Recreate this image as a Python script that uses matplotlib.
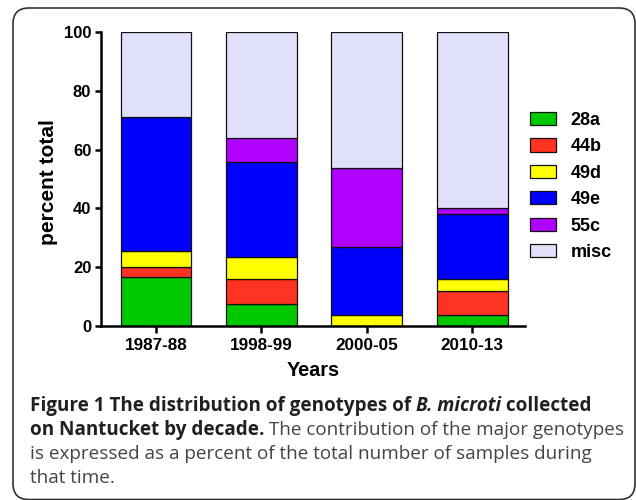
import matplotlib
matplotlib.use("Agg")
import matplotlib.pyplot as plt
import numpy as np
from matplotlib.patches import FancyBboxPatch

periods = ["1987-88", "1998-99", "2000-05", "2010-13"]
genotypes = ["28a", "44b", "49d", "49e", "55c", "misc"]
pct_28a = [16.6, 7.6, 0.0, 3.6]
pct_44b = [3.4, 8.3, 0.0, 8.3]
pct_49d = [5.6, 7.6, 3.6, 4.1]
pct_49e = [45.4, 32.2, 23.3, 22.0]
pct_55c = [0.0, 8.3, 26.8, 2.0]
pct_misc = [29.0, 36.0, 46.3, 60.0]
yticks = [0, 20, 40, 60, 80, 100]

colors = ["#00c800", "#ff3322", "#ffff00", "#0000ff", "#b000ff", "#e0e0fb"]

W, H = 636, 500
fig = plt.figure(figsize=(W / 100, H / 100), dpi=100)
plt.rcParams["font.family"] = ["Liberation Sans", "DejaVu Sans"]

# rounded frame around chart + caption
frame = FancyBboxPatch((13 / W, 0.5 / H), (635 - 13) / W, (492 - 0.5) / H,
                       boxstyle="round,pad=0,rounding_size=0.025",
                       transform=fig.transFigure, fill=False,
                       edgecolor="#333333", linewidth=1.2, mutation_aspect=W / H)
fig.patches.append(frame)

ax = fig.add_axes([101 / W, 1 - 326 / H, 424 / W, 294 / H])
x = np.arange(len(periods))
bottom = np.zeros(len(periods))
for name, vals, col in zip(genotypes,
                           [pct_28a, pct_44b, pct_49d, pct_49e, pct_55c, pct_misc],
                           colors):
    ax.bar(x, vals, width=0.67, bottom=bottom, color=col, edgecolor="#111111",
           linewidth=0.9, label=name)
    bottom += np.array(vals)

ax.set_xlim(-0.52, 3.5)
ax.set_ylim(0, 100)
ax.set_xticks(x)
ax.set_xticklabels(periods, fontsize=12.3, fontweight="bold")
ax.set_yticks(yticks)
ax.set_yticklabels([str(t) for t in yticks], fontsize=12, fontweight="bold")
for s in ["top", "right"]:
    ax.spines[s].set_visible(False)
for s in ["left", "bottom"]:
    ax.spines[s].set_linewidth(1.8)
ax.tick_params(axis="y", length=4, width=1.8, pad=3)
ax.tick_params(axis="x", length=5, width=1.8, pad=4)

fig.text(48 / W, 1 - 182 / H, "percent total", rotation=90, ha="center",
         va="center", fontsize=15, fontweight="bold")
fig.text(313 / W, 1 - 371 / H, "Years", ha="center", va="center",
         fontsize=14.3, fontweight="bold")

ax.legend(loc="upper left", bbox_to_anchor=(530 / W, 1 - 112 / H),
          bbox_transform=fig.transFigure, frameon=False,
          prop={"weight": "bold", "size": 13}, handlelength=1.45,
          handleheight=0.75, handletextpad=0.8, labelspacing=0.52,
          borderpad=0, borderaxespad=0)

# caption with mixed bold / italic runs
cap_font = ["Open Sans", "DejaVu Sans"]
lines = [
    [("Figure 1 The distribution of genotypes of ", "bold", "normal", "#231f20"),
     ("B. microti", "bold", "italic", "#231f20"),
     (" collected", "bold", "normal", "#231f20")],
    [("on Nantucket by decade.", "bold", "normal", "#231f20"),
     (" The contribution of the major genotypes", "normal", "normal", "#444444")],
    [("is expressed as a percent of the total number of samples during", "normal", "normal", "#444444")],
    [("that time.", "normal", "normal", "#444444")],
]
baselines = [411, 435, 459, 483]
renderer = fig.canvas.get_renderer()
for runs, yb in zip(lines, baselines):
    xpos = 30
    for txt, wt, st, col in runs:
        t = fig.text(xpos / W, 1 - yb / H, txt, fontsize=13.6, fontweight=wt,
                     fontstyle=st, color=col, family=cap_font,
                     ha="left", va="baseline")
        bb = t.get_window_extent(renderer)
        xpos += bb.width

fig.savefig("out.png", dpi=100)
